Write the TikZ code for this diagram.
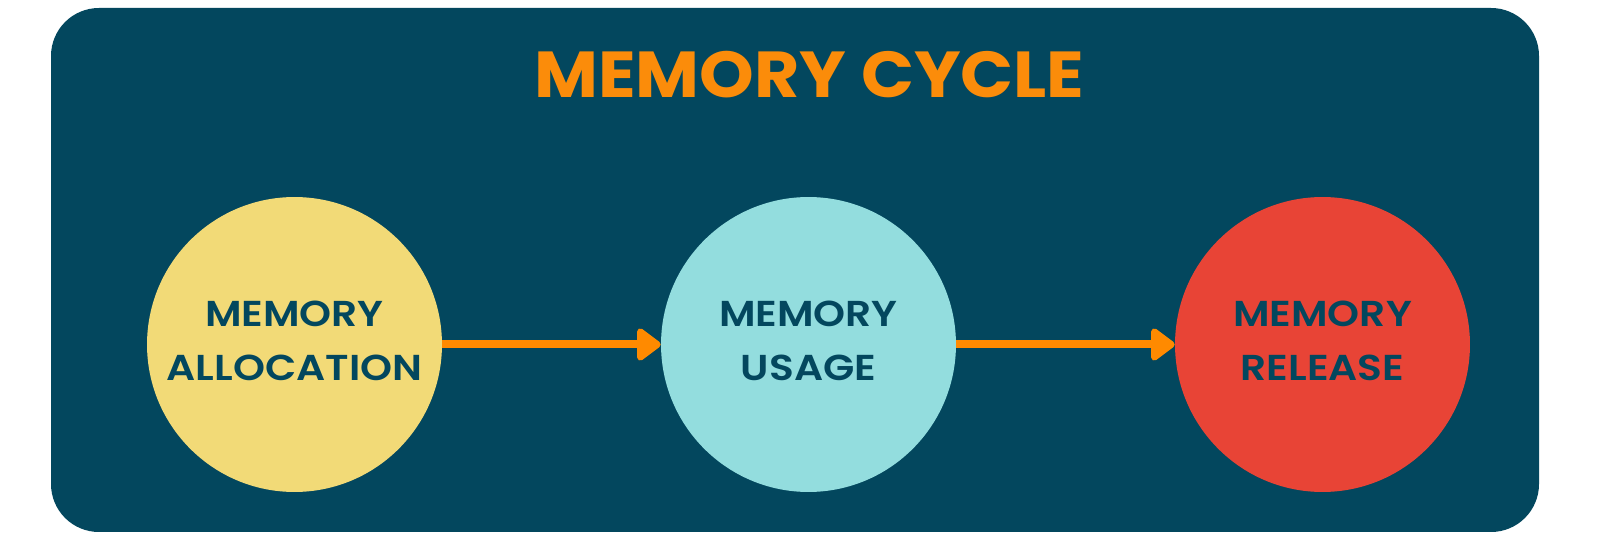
\documentclass[tikz,border=0pt]{standalone}
\usepackage{fontspec}
\setmainfont{Poppins}[BoldFont={* Bold}]
\newfontfamily\titlefont{Poppins}[BoldFont={* Bold}, FakeStretch=1.07]
\newfontfamily\labelfont{Poppins}[BoldFont={* SemiBold}, FakeStretch=1.13]
\usetikzlibrary{arrows.meta}
\definecolor{bgteal}{HTML}{03475E}
\definecolor{titleorange}{HTML}{FB8C0A}
\definecolor{arroworange}{HTML}{FF8A00}
\definecolor{cyellow}{HTML}{F2DA77}
\definecolor{ccyan}{HTML}{93DDDE}
\definecolor{cred}{HTML}{E84436}
\tikzset{
  stage/.style={circle, minimum size=5.9cm, inner sep=0pt, draw=none,
    text=bgteal, align=center, font=\labelfont\fontsize{20.5}{30.5}\selectfont\bfseries},
  flow/.style={draw=arroworange, line width=0.16cm,
    -{Triangle[length=0.52cm, width=0.74cm, round]}},
}
\begin{document}
\begin{tikzpicture}[x=0.02cm, y=-0.02cm]
\useasboundingbox (0,0) rectangle (1600,540);
\fill[white] (0,0) rectangle (1600,540);
\fill[bgteal, rounded corners=0.96cm] (51,8) rectangle (1539,532);
\node[text=titleorange, font=\titlefont\fontsize{37}{40}\selectfont\bfseries, anchor=center] (title) at (809.5,75) {MEMORY CYCLE};
\node[stage, fill=cyellow] (alloc) at (294.5,344.5) {};
\node[stage, fill=ccyan] (usage) at (808.5,344.5) {};
\node[stage, fill=cred] (release) at (1322.5,344.5) {};
\node[stage, minimum size=0pt, fill=none] (alloctext) at (294.5,341) {MEMORY\\ALLOCATION};
\node[stage, minimum size=0pt, fill=none] (usagetext) at (808.5,341) {MEMORY\\USAGE};
\node[stage, minimum size=0pt, fill=none] (releasetext) at (1322.5,341) {MEMORY\\RELEASE};
\draw[flow] (alloc) -- (usage);
\draw[flow] (usage) -- (release);
\end{tikzpicture}
\end{document}
